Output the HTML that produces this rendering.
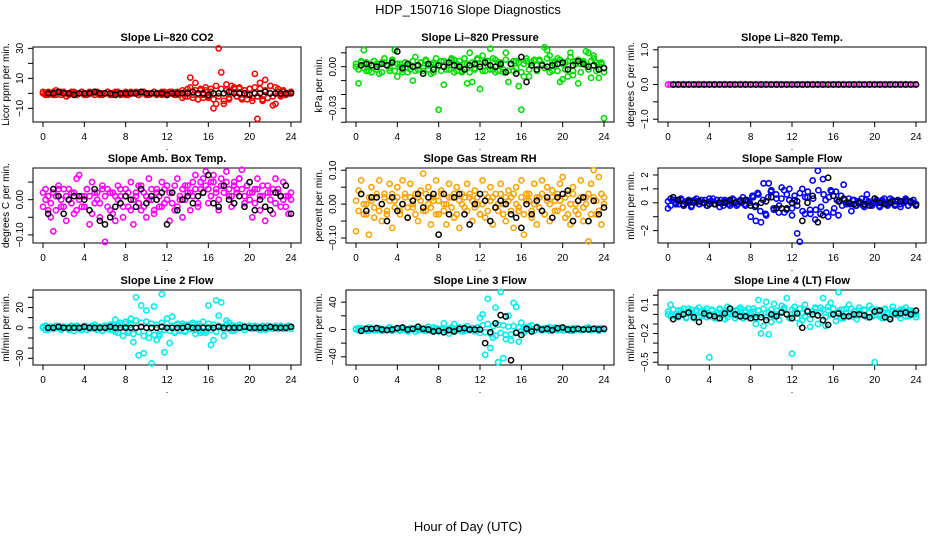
<!DOCTYPE html>
<html><head><meta charset="utf-8"><title>HDP_150716 Slope Diagnostics</title>
<style>
html,body{margin:0;padding:0;background:#fff;}
svg{display:block;font-family:"Liberation Sans",Arial,sans-serif;}
</style></head>
<body>
<svg id="chart" width="936" height="540" viewBox="0 0 936 540" xmlns="http://www.w3.org/2000/svg">
<rect x="0" y="0" width="936" height="540" fill="#fff"/>
<text x="468" y="14" font-size="13" text-anchor="middle">HDP_150716  Slope Diagnostics</text>
<text x="468" y="531" font-size="13" text-anchor="middle">Hour of Day (UTC)</text>
</svg>
<script>
const xTicks=[0,4,8,12,16,20,24];
// Panel 1 CO2
const co2A=[1,0,-1,0,1,-1,0,1,0,-2,0,1,0,-1,0,1,0,-1,0,0,1,0,-1,0,0,1,0,-1,0,1,0,0,-1,0,1,0,0,-1,0,1,0,-1,0,1,0,0,-1,1,0,0,1,0,-1,0,2,-2,3,10.5,-3,7,-4,2,-3,4,-2,3,-10,-7,30,14,-7,6,-4,5,3,-2,4,-3,2,-4,3,-5,13,-17,7,-5,9,-3,5,-8,-7,3,-2,1,-1,0,1];
const co2B=[0,-1,1,0,-1,2,0,-1,1,0,-1,0,1,-1,0,1,-1,0,1,0,-1,1,0,-1,0,1,-1,0,1,0,-1,0,1,-1,0,0,1,-1,0,1,-1,0,0,1,-1,0,1,0,-1,1,0,-1,1,0,-3,1,-2,4,-1,2,-4,3,-1,2,-3,1,-4,5,-2,3,-5,2,-3,1,4,-2,3,-4,2,-1,3,-3,4,-2,3,-4,2,-3,5,-2,4,1,-1,2,-1,0,1];
const co2K=[0,0,1,0,0,-1,0,0,0,1,0,0,0,-1,0,0,0,0,1,0,0,0,0,-1,0,0,0,0,1,0,0,-1,0,0,0,1,0,0,0,-1,0,0,1,0,0,0,0,0];
// Panel 2 Pressure
const presA=[0,-.012,.003,.012,-.003,.002,-.004,.004,.002,-.005,.003,.006,.001,-.003,.004,.012,-.007,.002,-.002,.003,-.004,.001,-.010,.007,-.002,.003,-.003,.004,.001,-.005,.003,.002,-.031,.004,-.013,.003,-.002,.006,.005,-.003,.004,-.004,.002,-.012,.010,-.011,-.002,.006,-.016,.008,-.003,.004,.013,-.002,.005,-.003,.003,-.004,.010,-.011,.002,-.003,.004,-.014,-.031,-.007,.004,-.007,.003,.005,-.003,.004,.002,.014,.012,.008,-.003,.004,.006,-.011,-.009,.003,-.007,.010,-.006,.004,-.012,.002,.004,.011,.010,-.008,.008,.003,-.008,.002,-.037];
const presB=[.002,-.002,.004,-.001,.003,-.003,.001,.004,-.002,.002,-.004,.003,.001,-.001,.005,-.003,.002,0,-.004,.003,.002,-.002,.004,-.003,.001,.003,-.001,.005,-.002,.002,-.004,.006,.001,-.003,.004,-.002,.003,.005,-.004,.002,.001,-.003,.006,.002,-.004,.003,-.001,.005,.002,-.003,.004,.001,-.002,.006,-.004,.003,.001,-.002,.005,-.003,.002,.004,-.001,.003,-.004,.002,.006,-.002,.001,.004,-.003,.005,.002,-.001,.006,-.004,.003,.001,-.003,.005,.002,-.002,.004,.007,-.003,.002,.005,-.004,.003,.001,-.002,.004,.006,-.003,.002,.003,-.004];
const presK=[.001,.002,.001,0,.002,.001,.003,.011,-.001,.002,0,.001,-.005,.002,-.002,.001,0,.003,.001,0,-.002,.001,.002,0,.003,.001,0,.002,-.004,.002,-.005,.007,-.011,.001,-.002,.001,0,.001,.002,.003,-.002,.001,.004,.002,0,.001,-.002,-.001];
// Panel 3 Temp
const tempA=[0,0,0,0,0,0,0,0,0,0,0,0,0,0,0,0,0,0,0,0,0,0,0,0,0,0,0,0,0,0,0,0,0,0,0,0,0,0,0,0,0,0,0,0,0,0,0,0,0,0,0,0,0,0,0,0,0,0,0,0,0,0,0,0,0,0,0,0,0,0,0,0,0,0,0,0,0,0,0,0,0,0,0,0,0,0,0,0,0,0,0,0,0,0,0,0,0];
const tempB=[];
const tempK=[0,0,0,0,0,0,0,0,0,0,0,0,0,0,0,0,0,0,0,0,0,0,0,0,0,0,0,0,0,0,0,0,0,0,0,0,0,0,0,0,0,0,0,0,0,0,0,0];
// Panel 4 Amb box temp
const ambA=[.02,.03,-.03,-.05,-.09,.01,.04,-.02,.03,-.06,0,.02,-.04,.06,.07,-.02,.01,.03,-.07,.05,-.01,.02,-.05,.04,-.12,.03,-.03,.02,-.06,.04,.01,-.05,.03,-.02,.05,-.07,.01,.04,-.03,.02,-.05,.06,0,-.04,.03,-.02,.05,-.01,.04,-.06,.02,-.03,.06,0,-.05,.04,.02,-.03,.05,.07,-.02,.03,.06,.08,-.01,.05,.07,.02,-.03,.06,.04,.08,.01,-.02,.05,.03,.06,.085,-.01,.04,.02,-.05,.03,.06,-.03,.01,-.06,.04,.02,-.04,.06,.03,-.02,.05,.01,-.04,.02];
const ambB=[-.02,0,.01,-.01,.02,-.03,.03,0,-.02,.01,.03,-.01,.02,-.03,0,.01,-.02,.03,.01,-.04,.02,0,-.01,.03,.01,-.02,.02,-.04,.01,0,.03,-.02,.01,.02,-.03,0,.02,-.01,.04,-.02,.01,0,.03,-.03,.02,.01,-.02,.03,0,.02,-.01,.04,-.02,.01,.03,0,.04,.02,.01,.03,-.01,.05,.02,.04,.03,.01,.05,.03,0,.04,.02,.05,.03,.01,.04,.02,.06,.03,.01,.04,0,.02,-.01,.03,.01,.04,-.02,.02,0,.03,-.01,.02,.01,0,-.02,.01,0];
const ambK=[-.04,.03,.01,-.04,0,.01,.01,0,-.03,.03,-.06,-.07,-.05,-.02,-.01,.01,0,-.02,.03,-.01,.01,0,.02,-.07,.02,-.03,0,.01,-.01,.01,.02,.07,-.01,-.02,.04,0,-.01,.01,-.02,.05,-.03,0,-.02,-.03,.02,.01,.04,-.04];
// Panel 5 RH
const rhA=[-.08,.04,.07,-.03,0,-.09,.05,-.04,.02,.07,-.05,.03,-.02,.06,-.07,.01,.05,-.03,.07,.02,-.04,.06,-.01,.03,-.05,.04,.09,-.02,.05,-.06,.01,.07,-.03,.04,0,-.06,.06,.02,-.04,.05,-.07,.03,-.01,.06,.02,-.05,.04,0,-.03,.07,-.04,.02,.05,-.06,.03,-.02,.06,0,-.05,.04,.02,-.07,.05,-.02,.07,-.09,.03,.01,-.04,.06,-.06,.02,.07,-.03,.05,-.05,.04,.01,-.02,.06,.08,-.04,.03,-.06,.05,0,-.03,.07,-.05,.02,-.11,.06,.10,-.03,.08,-.06,.02];
const rhB=[.01,-.02,.03,0,-.03,.02,.01,-.01,.03,-.02,0,.02,-.03,.01,.03,-.01,.02,-.02,0,.03,-.01,.02,0,-.03,.02,.01,-.02,.03,0,-.01,.02,-.03,.01,.03,-.02,0,.02,-.01,.03,-.03,.01,0,.02,-.02,.03,.01,-.01,.02,-.03,0,.03,-.02,.01,.02,-.01,0,.03,-.03,.02,.01,-.02,.03,0,-.01,.02,-.03,.01,.03,-.02,0,.02,-.01,.03,-.03,.01,0,.02,-.02,.03,.01,-.01,.02,-.03,0,.03,-.02,.01,.02,-.01,0,.03,-.03,.02,.01,-.02,.03,0];
const rhK=[.03,-.02,.02,.02,0,-.05,.02,-.02,0,-.04,.01,.03,-.01,.02,.03,-.09,.03,-.03,.02,.03,-.03,-.06,0,.03,.01,-.05,-.01,.01,0,-.03,-.04,-.07,0,-.03,.01,-.02,.02,-.04,.02,.03,.04,-.05,.01,.02,-.05,.01,-.03,-.01];
// Panel 6 Sample flow
const sfA=[-.4,.3,.2,-.1,.1,.3,-.2,0,.2,-.3,.1,.3,-.1,.2,0,-.2,.3,.1,-.1,.2,-.3,0,.2,.1,-.2,.3,0,-.1,.2,.4,-.2,.1,-1.0,.4,-1.3,.6,-1.4,1.4,-.9,1.4,.9,-.5,.3,-.2,1.1,-.7,.6,1.0,-.4,.2,-2.2,-2.8,1.0,-.8,.4,-.5,1.6,-1.2,2.3,-.8,1.7,.2,-1.0,.9,-.7,.8,-.9,.5,1.3,-.1,.3,-.6,.2,-.2,.1,.3,-.3,.6,0,-.2,.3,.1,-.3,.2,0,-.2,.3,.1,-.1,.2,-.3,.1,.3,-.2,0,.2,-.1];
const sfB=[.1,-.2,.2,0,-.1,.2,-.2,.1,0,-.2,.2,.1,-.1,0,.2,-.2,.1,.3,-.1,0,.2,-.2,.1,-.1,0,.2,-.2,.1,0,-.1,.2,0,.5,-.3,.7,-.6,.2,-.8,.4,.8,-.4,.6,-.7,.3,.9,-.5,.2,-.9,.5,-.2,.7,-.6,.4,.8,-.8,.3,-.5,.9,-.3,.6,-.7,.4,.8,-.4,.2,.1,-.2,.2,0,-.1,.2,-.2,.1,0,-.2,.2,.1,-.1,0,.2,-.2,.1,.3,-.1,0,.2,-.2,.1,-.1,0,.2,-.2,.1,0,-.1];
const sfK=[.4,.2,-.1,.1,0,.1,0,-.1,-.1,0,0,.2,0,.1,.2,-.2,-.2,0,.1,.4,-.4,-.4,-.4,0,.1,-1.3,0,.5,-1.4,-.9,1.8,.5,.1,.3,0,-.1,0,-.1,-.2,.3,0,-.1,0,.1,.1,.1,.1,-.2];
// Panel 7 Line 2
const l2A=[1,-2,0,1,-1,2,0,-1,1,0,-2,1,0,2,-1,0,1,-2,0,2,-1,1,0,-3,2,-1,3,-2,8,-5,3,-8,6,-3,9,-14,30,-27,22,-25,17,-10,-35,21,-12,-8,33,-24,9,-15,11,-5,4,-3,2,-4,3,-1,5,-6,2,-3,-4,-5,22,-17,-12,27,12,25,-8,7,5,-3,2,-1,3,0,-2,1,2,-1,0,1,-2,2,0,-1,1,0,2,-1,1,0,-1,2,1];
const l2B=[0,2,-2,1,-1,0,2,-2,1,0,-1,2,-3,1,0,-2,2,1,-1,0,3,-2,1,-3,2,0,-2,3,-4,2,5,-3,4,-5,3,-6,7,-4,5,-8,6,-5,4,-7,3,-6,5,-2,4,-3,2,-4,3,-2,4,-3,2,-1,3,-2,4,-5,6,-3,4,-2,3,-4,2,1,-2,3,-1,2,-3,1,0,2,-2,1,0,-1,2,-1,0,1,-2,2,0,-1,1,0,2,-1,1,0,-1];
const l2K=[0,0,1,0,0,0,0,1,0,0,0,0,1,0,0,0,0,0,1,0,0,0,1,0,0,0,0,1,0,0,0,0,0,1,0,0,0,0,1,0,0,0,0,1,0,0,0,1];
// Panel 8 Line 3
const l3A=[1,-1,2,0,1,-2,1,0,-1,2,0,-1,1,3,-2,0,1,-1,2,0,-3,1,0,2,-1,1,0,-2,4,0,-1,2,-3,1,9,0,-6,2,8,-1,3,0,-2,5,-1,2,-3,3,17,22,-37,45,-27,-12,32,-48,55,-42,-14,20,-16,39,33,-18,10,-5,3,0,6,-2,4,1,-1,2,0,3,-1,1,0,2,-1,0,1,-2,2,0,1,-1,0,2,1,-1,0,1,0,2,1];
const l3B=[0,2,-1,1,-2,3,0,-1,2,1,-2,0,1,3,-1,0,2,-2,1,0,-1,2,1,-3,0,2,-1,1,0,-2,3,1,-1,0,2,-2,1,3,-1,0,2,-3,1,0,-1,2,0,3,-5,6,-4,8,-6,5,-9,7,-5,6,-8,4,-7,5,-4,3,-2,2,-1,4,0,-2,3,1,-1,0,2,-2,1,3,-1,0,2,-1,1,0,-2,2,1,-1,0,1,3,-1,0,2,-2,1,0];
const l3K=[-2,1,1,2,0,-1,0,2,3,0,1,4,1,0,-3,-2,-4,-1,-3,1,2,0,0,0,-20,-4,9,21,19,-45,-5,-8,1,-3,3,0,1,-1,2,3,0,0,1,0,0,1,0,1];
// Panel 9 Line 4
const l4A=[0,.1,.05,-.02,.04,0,.06,-.03,.02,.05,-.04,.03,.07,-.02,.04,-.03,-.45,.05,0,-.04,.06,.02,-.05,.08,0,.03,-.04,.05,.07,-.02,.04,-.03,.02,.06,-.1,.15,-.2,-.12,.13,-.21,-.08,.11,0,-.06,.09,.05,.17,-.04,-.41,.08,.02,-.1,-.06,.1,.04,-.13,0,.06,-.1,.07,.17,-.12,.08,.12,0,-.07,.23,.05,-.04,.06,.1,-.02,.03,-.05,.07,0,.04,-.03,.09,-.02,-.5,.05,0,-.04,.06,.02,-.05,.08,0,.03,-.04,.05,.07,-.02,.04,0,-.03];
const l4B=[.03,-.02,.05,0,-.03,.04,.01,-.04,.06,.02,-.01,.05,-.03,.03,0,.06,-.02,.04,-.04,.02,.05,-.01,.03,-.03,.06,0,.04,-.02,.05,-.04,.02,.06,-.01,.03,-.05,.04,0,.06,-.03,.02,.05,-.02,.04,-.06,.03,.07,0,-.03,.05,.02,-.04,.06,.01,-.02,.04,-.05,.03,.07,-.01,.02,.05,-.03,.04,0,.06,-.02,.03,-.04,.05,.01,-.02,.06,.03,-.01,.04,0,.05,-.03,.02,.06,-.01,.04,-.02,.03,.05,0,-.03,.04,.02,-.01,.05,.03,-.02,.04,.01,.03,0];
const l4K=[-.05,-.02,0,.02,-.03,-.08,.01,-.01,-.02,-.04,.01,.06,0,-.02,-.02,-.04,-.03,-.03,-.06,0,-.02,.02,0,-.04,.01,-.14,.03,0,-.01,-.06,-.11,0,.01,-.02,-.02,0,0,-.01,-.03,.03,.04,-.03,-.05,.01,.01,.02,0,.04];

const panels=[
 {id:'co2',col:0,row:0,title:'Slope Li\u2013820 CO2',ylab:'Licor ppm per min.',ylim:[-19.1,30.9],ticks:[-10,0,10,20,30],labels:[[-10,'\u221210'],[10,'10'],[30,'30']],color:'#ff0000',A:co2A,B:co2B,K:co2K},
 {id:'pressure',col:1,row:0,title:'Slope Li\u2013820 Pressure',ylab:'kPa per min.',ylim:[-0.0398,0.0142],ticks:[0.01,0,-0.01,-0.02,-0.03,-0.04],labels:[[0,'0.00'],[-0.03,'\u22120.03']],color:'#00e000',A:presA,B:presB,K:presK},
 {id:'temp',col:2,row:0,title:'Slope Li\u2013820 Temp.',ylab:'degrees C per min.',ylim:[-1.08,1.08],ticks:[-1,-0.5,0,0.5,1],labels:[[-1,'\u22121.0'],[0,'0.0'],[1,'1.0']],color:'#ff00ff',A:tempA,B:tempB,K:tempK},
 {id:'amb-box',col:0,row:1,title:'Slope Amb. Box Temp.',ylab:'degrees C per min.',ylim:[-0.123,0.09],ticks:[-0.1,-0.05,0,0.05],labels:[[-0.1,'\u22120.10'],[0,'0.00']],color:'#ff00ff',A:ambA,B:ambB,K:ambK},
 {id:'gas-rh',col:1,row:1,title:'Slope Gas Stream RH',ylab:'percent per min.',ylim:[-0.1147,0.1066],ticks:[-0.1,-0.05,0,0.05,0.1],labels:[[-0.1,'\u22120.10'],[0,'0.00'],[0.1,'0.10']],color:'#ffa200',A:rhA,B:rhB,K:rhK},
 {id:'sample-flow',col:2,row:1,title:'Slope Sample Flow',ylab:'ml/min per min.',ylim:[-2.89,2.5],ticks:[-2,-1,0,1,2],labels:[[-2,'\u22122'],[0,'0'],[1,'1'],[2,'2']],color:'#0000ff',A:sfA,B:sfB,K:sfK},
 {id:'line2',col:0,row:2,title:'Slope Line 2 Flow',ylab:'ml/min per min.',ylim:[-36.6,37.2],ticks:[-30,-20,-10,0,10,20,30],labels:[[-30,'\u221230'],[0,'0'],[20,'20']],color:'#00f0f0',A:l2A,B:l2B,K:l2K},
 {id:'line3',col:1,row:2,title:'Slope Line 3 Flow',ylab:'ml/min per min.',ylim:[-52,57.8],ticks:[-40,-20,0,20,40],labels:[[-40,'\u221240'],[0,'0'],[40,'40']],color:'#00f0f0',A:l3A,B:l3B,K:l3K},
 {id:'line4',col:2,row:2,title:'Slope Line 4 (LT) Flow',ylab:'ml/min per min.',ylim:[-0.529,0.255],ticks:[0.2,0.1,0,-0.1,-0.2,-0.3,-0.4,-0.5],labels:[[0.1,'0.1'],[-0.2,'\u22120.2'],[-0.5,'\u22120.5']],color:'#00f0f0',A:l4A,B:l4B,K:l4K}
];
const colLeft=[33,346,658], rowTop=[47,168,290], W=268, H=75;
const NS='http://www.w3.org/2000/svg';
const svg=document.getElementById('chart');
function mk(tag,attrs,parent){const e=document.createElementNS(NS,tag);for(const k in attrs)e.setAttribute(k,attrs[k]);(parent||svg).appendChild(e);return e;}

panels.forEach(p=>{
  const L=colLeft[p.col],T=rowTop[p.row],R=L+W,B=T+H;
  const g=mk('g',{});
  
  
  const xs=v=>L+10+(v/24)*(W-20);
  const ys=v=>B-(v-p.ylim[0])/(p.ylim[1]-p.ylim[0])*H;
  const t=mk('text',{x:(L+R)/2,y:T-6,'font-size':11,'font-weight':'bold','text-anchor':'middle'},g);
  t.textContent=p.title;
  
  
  const fr=mk('rect',{x:L,y:T,width:W,height:H,fill:'none',stroke:'#000','stroke-width':1},g);
  
  
  const xa=mk('g',{},g);
  
  
  mk('line',{x1:xs(0),x2:xs(24),y1:B,y2:B,stroke:'#000'},xa);
  xTicks.forEach(v=>{
    mk('line',{x1:xs(v),x2:xs(v),y1:B,y2:B+5,stroke:'#000'},xa);
    const tl=mk('text',{x:xs(v),y:B+18,'font-size':10,'text-anchor':'middle'},xa);
    tl.textContent=v;
    
    
  });
  const dot=mk('text',{x:(L+R)/2,y:B+28,'font-size':9,'text-anchor':'middle'},xa);
  dot.textContent='.';
  const ya=mk('g',{},g);
  
  
  const tmin=Math.min(...p.ticks),tmax=Math.max(...p.ticks);
  mk('line',{x1:L,x2:L,y1:ys(tmin),y2:ys(tmax),stroke:'#000'},ya);
  p.ticks.forEach(v=>{mk('line',{x1:L-5,x2:L,y1:ys(v),y2:ys(v),stroke:'#000'},ya);});
  p.labels.forEach(([v,s])=>{
    const yy=ys(v);
    const tl=mk('text',{x:L-10,y:yy,'font-size':10,'text-anchor':'middle',transform:`rotate(-90 ${L-10} ${yy})`},ya);
    tl.textContent=s;
    
    
  });
  const cy=(T+B)/2;
  const yt=mk('text',{x:L-24,y:cy,'font-size':10,'text-anchor':'middle',transform:`rotate(-90 ${L-24} ${cy})`},g);
  yt.textContent=p.ylab;
  
  
  const drawSeries=(arr,color,name,t0,t1,sw)=>{
    const sg=mk('g',{},g);
    
    
    arr.forEach((v,i)=>{
      const tt=arr.length>1?t0+i*(t1-t0)/(arr.length-1):t0;
      const c=mk('circle',{cx:xs(tt),cy:ys(v),r:2.6,fill:'none',stroke:color,'stroke-width':sw},sg);
      
      
    });
  };
  drawSeries(p.A,p.color,'series-colored-a',0,24,1.6);
  drawSeries(p.B,p.color,'series-colored-b',0,24,1.6);
  drawSeries(p.K,'#000','series-black',0.5,24,1.5);
});
</script>
</body></html>
